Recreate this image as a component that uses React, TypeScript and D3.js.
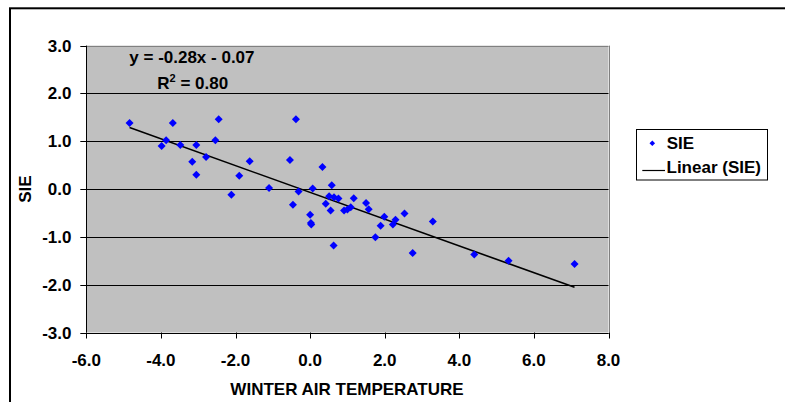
import React from "react";
import * as d3 from "d3";

const sieX: number[] = [
  -4.84, -3.68, -2.45, -0.38, -3.86, -3.98, -3.48, -3.05, -2.54, -3.16, -2.79, -3.05,
  -1.62, -1.9, -2.11, -1.1, -0.54, -0.31, -0.46, 0.33, 0.07, 0.58, 0.51, 0.64,
  0.76, 0.42, 0.55, 1.17, 0.91, 1.0, 1.09, 1.5, 1.57, 0.0, 0.02, 0.03,
  0.63, 1.99, 1.89, 2.29, 2.22, 2.53, 1.75, 2.75, 3.29, 4.4, 5.32, 7.09,
];
const sieY: number[] = [
  1.38, 1.38, 1.46, 1.46, 1.02, 0.9, 0.92, 0.92, 1.02, 0.57, 0.67, 0.3,
  0.58, 0.28, -0.12, 0.02, 0.61, -0.05, -0.33, 0.46, 0.01, 0.08, -0.15, -0.17,
  -0.2, -0.31, -0.45, -0.19, -0.45, -0.43, -0.38, -0.29, -0.42, -0.54, -0.71, -0.74,
  -1.18, -0.58, -0.77, -0.64, -0.74, -0.51, -1.01, -1.34, -0.68, -1.37, -1.5, -1.57,
];
const xTicks: number[] = [-6, -4, -2, 0, 2, 4, 6, 8];
const yTicks: number[] = [3, 2, 1, 0, -1, -2, -3];
const trendSlope = -0.28;
const trendIntercept = -0.07;
const equationText = "y = -0.28x - 0.07";
const r2Value = "0.80";
const xTitle = "WINTER AIR TEMPERATURE";
const yTitle = "SIE";
const legendLabels = ["SIE", "Linear (SIE)"];

const FONT = "'Liberation Sans', Arial, sans-serif";

export default function App() {
  const W = 785;
  const H = 402;
  const left = 86.3;
  const right = 608.5;
  const top = 45.6;
  const bottom = 332.5;
  const x = d3.scaleLinear().domain([-6, 8]).range([left, right]);
  const y = d3.scaleLinear().domain([-3, 3]).range([bottom, top]);

  const pts = sieX.map((v, i) => ({ x: v, y: sieY[i] }));
  const xMin = d3.min(sieX) as number;
  const xMax = d3.max(sieX) as number;
  const trend = d3
    .line<number>()
    .x((d) => x(d))
    .y((d) => y(trendSlope * d + trendIntercept))([xMin, xMax]);

  const diamond = (cx: number, cy: number, r: number) =>
    `M${cx},${cy - r}L${cx + r},${cy}L${cx},${cy + r}L${cx - r},${cy}Z`;

  return (
    <svg
      width={W}
      height={H}
      style={{ position: "absolute", left: 0, top: 0, background: "#fff" }}
      fontFamily={FONT}
    >
      <rect x={0} y={0} width={W} height={H} fill="#fff" />
      {/* outer chart frame */}
      <rect x={10} y={8.3} width={900} height={600} fill="none" stroke="#000" strokeWidth={2} />
      {/* plot area */}
      <rect x={left} y={top} width={right - left} height={bottom - top} fill="#C0C0C0" />
      {yTicks.map((t) => (
        <line
          key={"g" + t}
          x1={left}
          x2={right}
          y1={Math.round(y(t)) + 0.5}
          y2={Math.round(y(t)) + 0.5}
          stroke={t === 3 ? "#808080" : "#000"}
          strokeWidth={1}
        />
      ))}
      <line x1={Math.round(right) + 0.5} x2={Math.round(right) + 0.5} y1={top} y2={bottom} stroke="#808080" />
      {/* axes */}
      <line x1={Math.round(left) + 0.5} x2={Math.round(left) + 0.5} y1={top} y2={bottom} stroke="#000" />
      <line x1={left} x2={right} y1={Math.round(bottom) + 0.5} y2={Math.round(bottom) + 0.5} stroke="#000" />
      {yTicks.map((t) => (
        <g key={"yt" + t}>
          <line
            x1={left - 6}
            x2={left}
            y1={Math.round(y(t)) + 0.5}
            y2={Math.round(y(t)) + 0.5}
            stroke="#000"
          />
          <text x={71.5} y={y(t) + 6} textAnchor="end" fontSize={17} fontWeight="bold">
            {t.toFixed(1)}
          </text>
        </g>
      ))}
      {xTicks.map((t) => (
        <g key={"xt" + t}>
          <line
            x1={Math.round(x(t)) + 0.5}
            x2={Math.round(x(t)) + 0.5}
            y1={bottom}
            y2={bottom + 6}
            stroke="#000"
          />
          <text x={x(t)} y={366} textAnchor="middle" fontSize={17} fontWeight="bold">
            {t.toFixed(1)}
          </text>
        </g>
      ))}
      {/* titles */}
      <text x={347} y={395} textAnchor="middle" fontSize={17} fontWeight="bold">
        {xTitle}
      </text>
      <text
        transform={`translate(31,${y(0)}) rotate(-90)`}
        textAnchor="middle"
        fontSize={17}
        fontWeight="bold"
      >
        {yTitle}
      </text>
      {/* trend line */}
      <path d={trend || ""} fill="none" stroke="#000" strokeWidth={1.6} />
      {/* points */}
      {pts.map((p, i) => (
        <path key={"p" + i} d={diamond(x(p.x), y(p.y), 4)} fill="#0000FF" />
      ))}
      {/* equation */}
      <text x={129.3} y={63.3} fontSize={17} fontWeight="bold">
        {equationText}
      </text>
      <text x={157.3} y={89.3} fontSize={17} fontWeight="bold">
        R
        <tspan fontSize={11} dy={-7}>2</tspan>
        <tspan dy={7}>{" = " + r2Value}</tspan>
      </text>
      {/* legend */}
      <rect x={636.5} y={129.5} width={131} height={50.5} fill="#fff" stroke="#000" />
      <path d={diamond(652.3, 143.3, 2.8)} fill="#0000FF" />
      <text x={666.7} y={149.3} fontSize={17} fontWeight="bold">
        {legendLabels[0]}
      </text>
      <line x1={642.3} x2={665} y1={170.5} y2={170.5} stroke="#000" strokeWidth={1.2} />
      <text x={666.5} y={173} fontSize={17} fontWeight="bold">
        {legendLabels[1]}
      </text>
    </svg>
  );
}
